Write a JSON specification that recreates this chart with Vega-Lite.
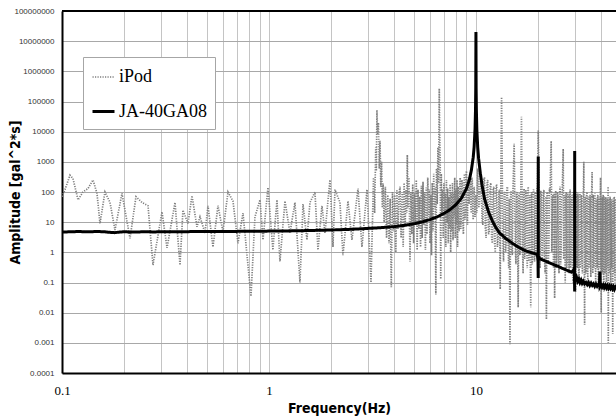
{
  "$schema": "https://vega.github.io/schema/vega-lite/v6.json",
  "width": 554,
  "height": 362,
  "autosize": {"type": "none"},
  "padding": {"left": 62, "top": 11, "right": 0, "bottom": 46},
  "background": "white",
  "datasets": {
    "ipod": [
      {"f":0.1,"a":70},{"f":0.1034,"a":120},{"f":0.1093,"a":360},{"f":0.113,"a":280},{"f":0.1195,"a":55},{"f":0.1263,"a":100},{"f":0.1335,"a":130},{"f":0.1412,"a":250},{"f":0.1476,"a":90},{"f":0.1526,"a":9},{"f":0.1613,"a":100},{"f":0.1706,"a":45},{"f":0.1803,"a":5.5},{"f":0.1949,"a":90},{"f":0.2131,"a":2.9},{"f":0.2278,"a":70},{"f":0.2435,"a":45},{"f":0.2604,"a":35},{"f":0.2752,"a":0.38},{"f":0.3042,"a":22},{"f":0.3217,"a":1.4},{"f":0.3516,"a":45},{"f":0.3716,"a":0.38},{"f":0.3841,"a":25},{"f":0.4061,"a":9},{"f":0.4246,"a":75},{"f":0.4489,"a":7},{"f":0.4642,"a":15},{"f":0.4908,"a":4.4},{"f":0.5074,"a":35},{"f":0.5363,"a":1.5},{"f":0.567,"a":35},{"f":0.5995,"a":4.8},{"f":0.6338,"a":100},{"f":0.67,"a":50},{"f":0.7084,"a":2},{"f":0.7489,"a":20},{"f":0.8185,"a":0.035},{"f":0.856,"a":15},{"f":0.9049,"a":55},{"f":0.9355,"a":2.6},{"f":0.989,"a":140},{"f":1.045,"a":1.2},{"f":1.093,"a":55},{"f":1.13,"a":0.5},{"f":1.195,"a":50},{"f":1.263,"a":4.4},{"f":1.335,"a":45},{"f":1.412,"a":0.1},{"f":1.46,"a":40},{"f":1.526,"a":2.6},{"f":1.578,"a":45},{"f":1.668,"a":100},{"f":1.725,"a":1.2},{"f":1.803,"a":35},{"f":1.864,"a":4.4},{"f":1.971,"a":250},{"f":2.038,"a":1.5},{"f":2.084,"a":120},{"f":2.203,"a":45},{"f":2.278,"a":0.8},{"f":2.408,"a":50},{"f":2.518,"a":2.6},{"f":2.692,"a":130},{"f":2.814,"a":1.5},{"f":2.975,"a":120},{"f":3.111,"a":0.1},{"f":3.2,"a":300},{"f":3.24,"a":20},{"f":3.28,"a":3000},{"f":3.3,"a":500},{"f":3.325,"a":52000},{"f":3.35,"a":8000},{"f":3.38,"a":20000},{"f":3.41,"a":600},{"f":3.44,"a":5000},{"f":3.47,"a":150},{"f":3.5,"a":1000},{"f":3.53,"a":30},{"f":3.56,"a":190},{"f":3.6,"a":10},{"f":3.65,"a":150},{"f":3.7,"a":3},{"f":3.75,"a":80},{"f":3.8,"a":2},{"f":3.85,"a":60},{"f":3.9,"a":0.07},{"f":3.95,"a":100},{"f":4.0,"a":5},{"f":4.05,"a":80},{"f":4.1,"a":1},{"f":4.15,"a":120},{"f":4.2,"a":6},{"f":4.25,"a":90},
      {"f":4.3,"a":150},{"f":4.35,"a":3},{"f":4.4,"a":90},{"f":4.45,"a":1.5},{"f":4.5,"a":200},{"f":4.55,"a":8},{"f":4.6,"a":120},{"f":4.63,"a":20},{"f":4.66,"a":1700},{"f":4.7,"a":30},{"f":4.75,"a":300},{"f":4.8,"a":0.5},{"f":4.85,"a":100},{"f":4.9,"a":4},{"f":4.95,"a":180},{"f":5.0,"a":2},{"f":5.05,"a":90},{"f":5.1,"a":10},{"f":5.15,"a":250},{"f":5.2,"a":1.2},{"f":5.25,"a":120},{"f":5.3,"a":6},{"f":5.35,"a":70},{"f":5.4,"a":1.5},{"f":5.45,"a":160},{"f":5.5,"a":3},{"f":5.55,"a":220},{"f":5.6,"a":8},{"f":5.65,"a":100},{"f":5.7,"a":1.2},{"f":5.75,"a":140},{"f":5.8,"a":4},{"f":5.85,"a":300},{"f":5.9,"a":15},{"f":5.95,"a":120},{"f":6.0,"a":2},{"f":6.05,"a":80},{"f":6.1,"a":0.8},{"f":6.15,"a":200},{"f":6.2,"a":5},{"f":6.25,"a":400},{"f":6.3,"a":30},{"f":6.35,"a":150},{"f":6.4,"a":0.04},{"f":6.45,"a":600},{"f":6.5,"a":40},{"f":6.55,"a":3000},{"f":6.6,"a":200},{"f":6.65,"a":270000},{"f":6.68,"a":10000},{"f":6.72,"a":800},{"f":6.76,"a":0.13},{"f":6.8,"a":400},{"f":6.85,"a":20},{"f":6.9,"a":120},{"f":6.95,"a":3},{"f":7.0,"a":200},{"f":7.05,"a":8},{"f":7.1,"a":90},{"f":7.15,"a":1.5},{"f":7.2,"a":250},{"f":7.25,"a":10},{"f":7.3,"a":130},{"f":7.35,"a":2},{"f":7.4,"a":70},{"f":7.45,"a":6},{"f":7.5,"a":180},{"f":7.55,"a":1},{"f":7.6,"a":100},{"f":7.65,"a":5},{"f":7.7,"a":200},{"f":7.75,"a":2.5},{"f":7.8,"a":90},{"f":7.85,"a":15},{"f":7.9,"a":300},{"f":7.95,"a":3},{"f":8.0,"a":120},{"f":8.05,"a":8},{"f":8.1,"a":250},{"f":8.15,"a":1.5},{"f":8.2,"a":150},{"f":8.25,"a":12},{"f":8.3,"a":5},{"f":8.35,"a":180},{"f":8.4,"a":300},{"f":8.45,"a":6},{"f":8.5,"a":20},{"f":8.55,"a":250},{"f":8.6,"a":200},{"f":8.65,"a":9},{"f":8.7,"a":4},{"f":8.75,"a":150},{"f":8.8,"a":400},{"f":8.85,"a":12},{"f":8.9,"a":30},{"f":8.95,"a":350},{"f":9.0,"a":500},{"f":9.05,"a":25},{"f":9.1,"a":8},{"f":9.15,"a":200},{"f":9.2,"a":300},{"f":9.25,"a":40},{"f":9.3,"a":60},{"f":9.35,"a":350},{"f":9.4,"a":400},{"f":9.45,"a":30},{"f":9.5,"a":20},{"f":9.55,"a":300},{"f":9.6,"a":250},{"f":9.65,"a":25},{"f":9.7,"a":12},{"f":9.8,"a":150},{"f":9.9,"a":15},{"f":10.0,"a":80},{"f":10.1,"a":20},
      {"f":10.2,"a":600},{"f":10.3,"a":30},{"f":10.4,"a":40},{"f":10.5,"a":350},{"f":10.6,"a":400},{"f":10.7,"a":12},{"f":10.8,"a":8},{"f":10.9,"a":250},{"f":11.0,"a":300},{"f":11.1,"a":6},{"f":11.2,"a":3},{"f":11.3,"a":180},{"f":11.4,"a":250},{"f":11.5,"a":4},{"f":11.6,"a":5},{"f":11.7,"a":160},{"f":11.8,"a":200},{"f":11.9,"a":3},{"f":12.0,"a":2},{"f":12.1,"a":120},{"f":12.2,"a":150},{"f":12.3,"a":2},{"f":12.4,"a":1},{"f":12.5,"a":140},{"f":12.6,"a":180},{"f":12.7,"a":1.5},{"f":12.8,"a":3},{"f":12.9,"a":90},{"f":13.0,"a":120},{"f":13.1,"a":0.06},{"f":13.2,"a":300},{"f":13.3,"a":140000},{"f":13.4,"a":400},{"f":13.5,"a":2},{"f":13.6,"a":0.5},{"f":13.7,"a":90},{"f":13.8,"a":100},{"f":13.9,"a":1},{"f":14.0,"a":2},{"f":14.1,"a":130},{"f":14.2,"a":150},{"f":14.3,"a":1.5},{"f":14.4,"a":0.3},{"f":14.5,"a":60},{"f":14.6,"a":0.0009},{"f":14.7,"a":80},{"f":14.8,"a":110},{"f":14.9,"a":1},{"f":15.0,"a":0.8},{"f":15.1,"a":120},{"f":15.3,"a":4000},{"f":15.4,"a":60},{"f":15.5,"a":1.5},{"f":15.6,"a":0.4},{"f":15.7,"a":80},{"f":15.8,"a":100},{"f":15.9,"a":2},{"f":16.0,"a":0.015},{"f":16.1,"a":70},{"f":16.2,"a":90},{"f":16.3,"a":0.8},{"f":16.4,"a":1.5},{"f":16.6,"a":31000},{"f":16.7,"a":200},{"f":16.8,"a":1},{"f":16.9,"a":0.2},{"f":17.0,"a":100},{"f":17.1,"a":130},{"f":17.2,"a":0.6},{"f":17.3,"a":2},{"f":17.4,"a":120},{"f":17.5,"a":80},{"f":17.6,"a":1.2},{"f":17.7,"a":0.3},{"f":17.8,"a":90},{"f":17.9,"a":150},{"f":18.0,"a":0.5},{"f":18.1,"a":1},{"f":18.2,"a":80},{"f":18.4,"a":0.015},{"f":18.5,"a":70},{"f":18.6,"a":100},{"f":18.7,"a":0.4},{"f":18.8,"a":0.8},{"f":18.9,"a":110},{"f":19.0,"a":120},{"f":19.1,"a":1},{"f":19.2,"a":0.5},{"f":19.3,"a":100},{"f":19.4,"a":90},{"f":19.5,"a":0.7},{"f":19.6,"a":2},{"f":19.7,"a":120},{"f":19.8,"a":150},{"f":20.0,"a":11000},{"f":20.2,"a":100},{"f":20.3,"a":1.5},{"f":20.4,"a":0.3},{"f":20.55,"a":110},{"f":20.7,"a":80},{"f":20.85,"a":0.5},{"f":21.0,"a":0.8},{"f":21.15,"a":90},{"f":21.3,"a":120},{"f":21.45,"a":0.6},{"f":21.6,"a":0.2},{"f":21.75,"a":70},{"f":21.9,"a":0.006},{"f":22.05,"a":100},{"f":22.2,"a":90},{"f":22.35,"a":0.4},{"f":22.5,"a":1},{"f":22.65,"a":130},{"f":22.8,"a":100},{"f":23.1,"a":4900},{"f":23.25,"a":1},{"f":23.4,"a":70},{"f":23.55,"a":80},{"f":23.7,"a":0.3},{"f":23.85,"a":90},{"f":24.0,"a":0.03},{"f":24.15,"a":60},{"f":24.3,"a":110},{"f":24.45,"a":0.3},{"f":24.6,"a":0.6},{"f":24.75,"a":100},{"f":24.9,"a":80},{"f":25.05,"a":0.5},{"f":25.2,"a":0.2},{"f":25.35,"a":90},{"f":25.5,"a":150},{"f":25.65,"a":0.4},{"f":25.8,"a":1},{"f":25.95,"a":70},{"f":26.1,"a":90},{"f":26.4,"a":2700},{"f":26.55,"a":0.6},{"f":26.7,"a":60},{"f":26.85,"a":80},{"f":27.0,"a":0.1},{"f":27.15,"a":70},{"f":27.3,"a":100},{"f":27.45,"a":0.3},{"f":27.6,"a":0.5},{"f":27.75,"a":90},{"f":27.9,"a":70},{"f":28.05,"a":0.8},{"f":28.2,"a":0.2},{"f":28.35,"a":80},{"f":28.5,"a":120},{"f":28.65,"a":0.3},{"f":28.8,"a":0.8},{"f":28.95,"a":60},{"f":29.1,"a":80},{"f":29.25,"a":0.4},{"f":29.4,"a":0.1},{"f":29.55,"a":100},{"f":29.7,"a":90},{"f":29.85,"a":0.5},{"f":30.0,"a":300},{"f":30.15,"a":0.6},{"f":30.3,"a":0.05},{"f":30.45,"a":80},{"f":30.6,"a":100},{"f":30.75,"a":0.4},{"f":30.9,"a":0.3},{"f":31.05,"a":90},{"f":31.2,"a":70},{"f":31.35,"a":0.2},{"f":31.5,"a":0.1},{"f":31.65,"a":70},{"f":31.8,"a":90},{"f":31.95,"a":0.3},{"f":32.1,"a":0.6},{"f":32.25,"a":80},{"f":32.4,"a":60},{"f":32.55,"a":0.5},{"f":32.7,"a":0.2},{"f":32.85,"a":60},{"f":33.0,"a":80},{"f":33.2,"a":1000},{"f":33.5,"a":0.004},{"f":33.65,"a":60},{"f":33.8,"a":70},{"f":33.95,"a":0.2},{"f":34.1,"a":0.3},{"f":34.25,"a":80},{"f":34.4,"a":100},{"f":34.55,"a":0.4},{"f":34.7,"a":0.1},{"f":34.85,"a":70},{"f":35.0,"a":60},{"f":35.15,"a":0.3},{"f":35.3,"a":0.5},{"f":35.45,"a":60},{"f":35.6,"a":80},{"f":35.75,"a":0.6},{"f":35.9,"a":0.15},{"f":36.05,"a":60},{"f":36.2,"a":70},{"f":36.4,"a":460},{"f":36.55,"a":0.5},{"f":36.7,"a":0.2},{"f":36.85,"a":80},{"f":37.0,"a":60},{"f":37.15,"a":0.3},{"f":37.3,"a":0.8},{"f":37.45,"a":70},{"f":37.6,"a":90},{"f":37.75,"a":0.4},{"f":37.9,"a":0.1},{"f":38.05,"a":60},{"f":38.2,"a":50},{"f":38.35,"a":0.5},{"f":38.5,"a":0.3},{"f":38.65,"a":70},{"f":38.8,"a":80},{"f":38.95,"a":0.3},{"f":39.1,"a":0.06},{"f":39.25,"a":60},{"f":39.4,"a":70},{"f":39.55,"a":0.3},{"f":39.7,"a":0.5},{"f":40.0,"a":300},{"f":40.15,"a":0.4},{"f":40.3,"a":0.01},{"f":40.45,"a":70},{"f":40.6,"a":60},{"f":40.75,"a":0.4},{"f":40.9,"a":0.2},{"f":41.05,"a":60},{"f":41.2,"a":80},{"f":41.35,"a":0.3},{"f":41.5,"a":0.05},{"f":41.65,"a":70},{"f":41.8,"a":50},{"f":41.95,"a":0.2},{"f":42.1,"a":0.4},{"f":42.25,"a":60},{"f":42.4,"a":70},{"f":42.55,"a":0.3},{"f":42.7,"a":0.1},{"f":42.85,"a":50},{"f":43.0,"a":60},{"f":43.15,"a":0.5},{"f":43.3,"a":0.3},{"f":43.5,"a":150},{"f":43.6,"a":0.001},{"f":43.75,"a":60},{"f":43.9,"a":50},{"f":44.05,"a":0.4},{"f":44.2,"a":0.2},{"f":44.35,"a":60},{"f":44.5,"a":70},{"f":44.65,"a":0.3},{"f":44.8,"a":0.08},{"f":44.95,"a":50},{"f":45.1,"a":60},{"f":45.25,"a":0.3},{"f":45.4,"a":0.5},{"f":45.6,"a":50},{"f":45.8,"a":0.002},{"f":45.95,"a":60},{"f":46.1,"a":50},{"f":46.25,"a":0.3},{"f":46.4,"a":0.2},{"f":46.55,"a":70},{"f":46.7,"a":60},{"f":46.85,"a":0.4},{"f":47.0,"a":0.1},{"f":47.15,"a":60},{"f":47.3,"a":50},{"f":47.45,"a":0.2},{"f":47.6,"a":0.3},{"f":48.0,"a":60}
    ],
    "ja": [
      {"f":0.1,"a":4.7},{"f":0.11,"a":4.8},{"f":0.12,"a":4.9},{"f":0.13,"a":4.8},{"f":0.14,"a":4.85},{"f":0.15,"a":4.9},{"f":0.16,"a":4.8},{"f":0.17,"a":4.6},{"f":0.18,"a":4.5},{"f":0.19,"a":4.7},{"f":0.2,"a":4.8},{"f":0.22,"a":4.7},{"f":0.25,"a":4.8},{"f":0.28,"a":4.75},{"f":0.3,"a":4.8},{"f":0.35,"a":4.8},{"f":0.4,"a":4.85},{"f":0.5,"a":4.9},{"f":0.6,"a":4.9},{"f":0.7,"a":4.95},{"f":0.8,"a":5.0},{"f":1.0,"a":5.05},{"f":1.2,"a":5.1},{"f":1.5,"a":5.25},{"f":2.0,"a":5.5},{"f":2.5,"a":5.8},{"f":3.0,"a":6.2},{"f":3.5,"a":6.6},{"f":4.0,"a":7.1},{"f":4.5,"a":7.8},{"f":5.0,"a":8.8},{"f":5.5,"a":10.2},{"f":6.0,"a":12.2},{"f":6.5,"a":15},{"f":7.0,"a":19.5},{"f":7.5,"a":26},{"f":8.0,"a":38},{"f":8.5,"a":62},{"f":9.0,"a":130},{"f":9.3,"a":260},{"f":9.5,"a":520},{"f":9.7,"a":1400},{"f":9.8,"a":3100},{"f":9.9,"a":12000},{"f":9.95,"a":50000},{"f":9.98,"a":300000},{"f":10.0,"a":20000000},{"f":10.02,"a":300000},{"f":10.05,"a":50000},{"f":10.1,"a":12000},{"f":10.2,"a":3000},{"f":10.3,"a":1300},{"f":10.5,"a":420},{"f":10.7,"a":170},{"f":11.0,"a":60},{"f":11.5,"a":22},{"f":12.0,"a":11},{"f":12.5,"a":6.5},{"f":13.0,"a":4.4},{"f":14.0,"a":2.8},{"f":15.0,"a":2.0},{"f":16.0,"a":1.5},{"f":17.0,"a":1.2},{"f":18.0,"a":1.03},{"f":19.0,"a":0.93},{"f":19.8,"a":0.86},{"f":19.95,"a":0.5},{"f":19.99,"a":0.14},{"f":20.0,"a":1500},{"f":20.01,"a":0.75},{"f":20.3,"a":0.62},{"f":21.0,"a":0.56},{"f":22.0,"a":0.49},{"f":23.0,"a":0.43},{"f":24.0,"a":0.38},{"f":25.0,"a":0.34},{"f":26.0,"a":0.3},{"f":27.0,"a":0.27},{"f":28.0,"a":0.24},{"f":29.0,"a":0.22},{"f":29.7,"a":0.26},{"f":29.9,"a":0.3},{"f":29.99,"a":0.05},{"f":30.0,"a":2300},{"f":30.01,"a":0.14},{"f":30.3,"a":0.13},{"f":30.6,"a":0.15},{"f":31.0,"a":0.11},{"f":31.4,"a":0.13},{"f":31.8,"a":0.1},{"f":32.2,"a":0.12},{"f":32.6,"a":0.095},{"f":33.0,"a":0.11},{"f":33.5,"a":0.09},{"f":34.0,"a":0.1},{"f":34.5,"a":0.085},{"f":35.0,"a":0.1},{"f":35.5,"a":0.08},{"f":36.0,"a":0.095},{"f":36.5,"a":0.08},{"f":37.0,"a":0.09},{"f":37.5,"a":0.075},{"f":38.0,"a":0.088},{"f":38.5,"a":0.075},{"f":39.0,"a":0.085},{"f":39.5,"a":0.08},{"f":39.7,"a":0.23},{"f":39.8,"a":0.075},{"f":40.2,"a":0.085},{"f":40.7,"a":0.07},{"f":41.2,"a":0.082},{"f":41.7,"a":0.068},{"f":42.2,"a":0.08},{"f":42.7,"a":0.066},{"f":43.2,"a":0.078},{"f":43.7,"a":0.065},{"f":44.2,"a":0.076},{"f":44.7,"a":0.064},{"f":45.2,"a":0.074},{"f":45.7,"a":0.062},{"f":46.2,"a":0.072},{"f":46.7,"a":0.06},{"f":47.2,"a":0.07},{"f":47.8,"a":0.06}
    ]
  },
  "layer": [
    {
      "data": {"name": "ipod"},
      "transform": [{"calculate": "'iPod'", "as": "series"}],
      "mark": {"type": "line", "clip": true, "interpolate": "linear"},
      "encoding": {
        "x": {"field": "f", "type": "quantitative",
          "scale": {"type": "log", "domain": [0.1, 47.5], "nice": false},
          "axis": {"values": [0.1,0.2,0.3,0.4,0.5,0.6,0.7,0.8,0.9,1,2,3,4,5,6,7,8,9,10,20,30,40],
            "labelExpr": "datum.value == 0.1 ? '0.1' : datum.value == 1 ? '1' : datum.value == 10 ? '10' : ''",
            "labelOverlap": false, "labelFlush": false, "labelBound": false,
            "labelFont": "Liberation Serif", "labelFontSize": 13, "labelColor": "#000000",
            "labelPadding": 11, "labelBaseline": "top",
            "ticks": false, "domainColor": "#000000", "domainWidth": 2,
            "grid": true, "gridColor": "#c4c4c4", "gridWidth": 1,
            "title": "Frequency(Hz)", "titleFont": "DejaVu Sans Condensed", "titleFontWeight": "bold",
            "titleFontSize": 14, "titleColor": "#000000", "titleY": 35, "titleBaseline": "middle"}},
        "y": {"field": "a", "type": "quantitative",
          "scale": {"type": "log", "domain": [0.0001, 100000000], "nice": false},
          "axis": {"values": [0.0001,0.001,0.01,0.1,1,10,100,1000,10000,100000,1000000,10000000,100000000],
            "labelExpr": "datum.value >= 1 ? format(datum.value, 'd') : format(datum.value, '.4~f')",
            "labelOverlap": false, "labelFont": "Liberation Sans", "labelFontSize": 8, "labelColor": "#333333",
            "labelPadding": 8, "ticks": false, "domainColor": "#000000", "domainWidth": 2,
            "grid": true, "gridColor": "#a8a8a8", "gridWidth": 1,
            "title": "Amplitude [gal^2*s]", "titleFont": "DejaVu Sans Condensed", "titleFontWeight": "bold",
            "titleFontSize": 14, "titleColor": "#000000", "titleX": -40, "titleY": 181,
            "titleAngle": -90, "titleBaseline": "bottom", "titleAlign": "center"}},
        "color": {"field": "series", "type": "nominal",
          "scale": {"domain": ["iPod", "JA-40GA08"], "range": ["#7f7f7f", "#000000"]},
          "legend": {"title": null}},
        "strokeDash": {"field": "series", "type": "nominal",
          "scale": {"domain": ["iPod", "JA-40GA08"], "range": [[1.2, 1.3], [1, 0]]},
          "legend": {"title": null}},
        "strokeWidth": {"field": "series", "type": "nominal",
          "scale": {"domain": ["iPod", "JA-40GA08"], "range": [1.7, 3]},
          "legend": {"title": null}}
      }
    },
    {
      "data": {"name": "ja"},
      "transform": [{"calculate": "'JA-40GA08'", "as": "series"}],
      "mark": {"type": "line", "clip": true, "interpolate": "linear"},
      "encoding": {
        "x": {"field": "f", "type": "quantitative",
          "scale": {"type": "log", "domain": [0.1, 47.5], "nice": false}},
        "y": {"field": "a", "type": "quantitative",
          "scale": {"type": "log", "domain": [0.0001, 100000000], "nice": false}},
        "color": {"field": "series", "type": "nominal",
          "scale": {"domain": ["iPod", "JA-40GA08"], "range": ["#7f7f7f", "#000000"]},
          "legend": {"title": null}},
        "strokeDash": {"field": "series", "type": "nominal",
          "scale": {"domain": ["iPod", "JA-40GA08"], "range": [[1.2, 1.3], [1, 0]]},
          "legend": {"title": null}},
        "strokeWidth": {"field": "series", "type": "nominal",
          "scale": {"domain": ["iPod", "JA-40GA08"], "range": [1.7, 3]},
          "legend": {"title": null}}
      }
    },
    {
      "data": {"values": [{}]},
      "mark": {"type": "rule", "color": "#000000", "strokeWidth": 2},
      "encoding": {"y": {"datum": 100000000}}
    }
  ],
  "resolve": {"scale": {"color": "shared", "strokeDash": "shared", "strokeWidth": "shared"}},
  "config": {
    "view": {"stroke": null},
    "legend": {
      "orient": "none", "legendX": 21, "legendY": 46,
      "fillColor": "#ffffff", "strokeColor": "#a6a6a6", "padding": 8,
      "labelFont": "Liberation Serif", "labelFontSize": 18, "labelColor": "#000000", "labelOffset": 3,
      "symbolType": "stroke", "symbolSize": 484, "rowPadding": 13, "symbolOpacity": 1
    }
  }
}
